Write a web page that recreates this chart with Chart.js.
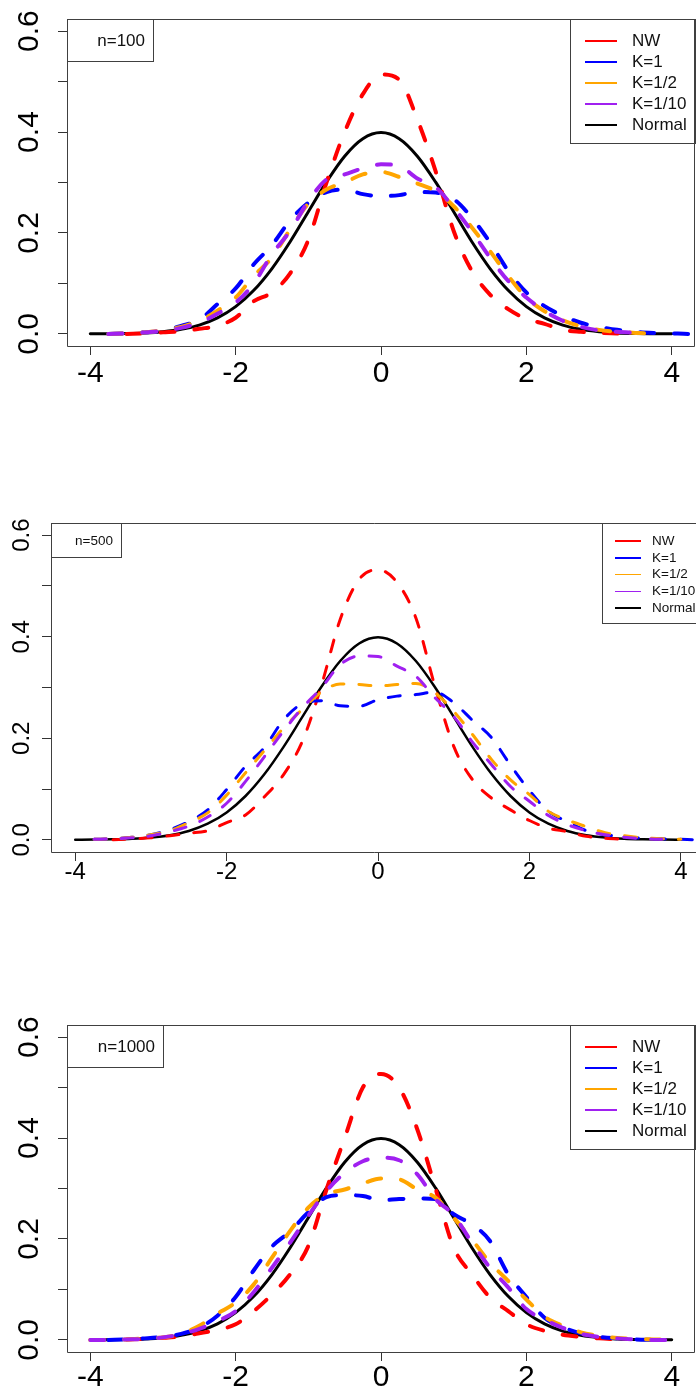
<!DOCTYPE html>
<html>
<head>
<meta charset="utf-8">
<script src="https://cdn.jsdelivr.net/npm/chart.js@4.4.0/dist/chart.umd.min.js"></script>
<style>
  body { margin: 0; background: #fff; }
  #page { position: relative; width: 696px; height: 1395px; overflow: hidden; background: #fff;
          font-family: "Liberation Sans", Arial, sans-serif; }
  canvas { position: absolute; left: 0; }
  .box { position: absolute; border: 1px solid #404040; box-sizing: border-box; }
  .nlab { text-align: right; color: #111; white-space: nowrap; }
  .lg-line, .lg-text { position: absolute; }
  .lg-text { color: #111; white-space: nowrap; }
</style>
</head>
<body>
<div id="page"></div>
<script>
// ---- data (x grid: -4 .. 4.5 by 0.25) ----
const xGrid = [-4, -3.75, -3.5, -3.25, -3, -2.75, -2.5, -2.25, -2, -1.75, -1.5, -1.25, -1, -0.75, -0.5, -0.25,
  0, 0.25, 0.5, 0.75, 1, 1.25, 1.5, 1.75, 2, 2.25, 2.5, 2.75, 3, 3.25, 3.5, 3.75, 4, 4.25, 4.5];
const xTicks = [-4, -2, 0, 2, 4];
const yTicks = [0, 0.1, 0.2, 0.3, 0.4, 0.5, 0.6];
const yLabels = ['0.0', '', '0.2', '', '0.4', '', '0.6'];
const seriesNames = ['NW', 'K=1', 'K=1/2', 'K=1/10', 'Normal'];
const seriesColors = ['#FF0000', '#0000FF', '#FFA500', '#A020F0', '#000000'];
const sampleLabels = ['n=100', 'n=500', 'n=1000'];

// standard normal density
const normalY = [0.0001, 0.0004, 0.0009, 0.002, 0.0044, 0.0091, 0.0175, 0.0317, 0.054, 0.0863, 0.1295, 0.1826, 0.242, 0.3011, 0.3521, 0.3867,
  0.3989, 0.3867, 0.3521, 0.3011, 0.242, 0.1826, 0.1295, 0.0863, 0.054, 0.0317, 0.0175, 0.0091, 0.0044, 0.002, 0.0009, 0.0004, 0.0001, null, null];

// n = 100
const nw100 = [null, null, 0, 0.001, 0.003, 0.005, 0.01, 0.016, 0.032, 0.065, 0.082, 0.12, 0.186, 0.30, 0.40, 0.475,
  0.514, 0.504, 0.425, 0.323, 0.204, 0.125, 0.078, 0.049, 0.03, 0.02, 0.008, 0.004, 0.002, 0.001, 0, null, null, null, null];
const k1_100 = [null, 0, 0.001, 0.003, 0.006, 0.016, 0.028, 0.059, 0.09, 0.138, 0.176, 0.225, 0.26, 0.281, 0.286, 0.277,
  0.273, 0.275, 0.281, 0.280, 0.267, 0.230, 0.181, 0.125, 0.082, 0.055, 0.036, 0.022, 0.014, 0.008, 0.004, 0.002, 0.001, 0, 0];
const kHalf100 = [null, 0, 0.001, 0.003, 0.007, 0.014, 0.026, 0.046, 0.072, 0.115, 0.151, 0.207, 0.258, 0.286, 0.300, 0.316,
  0.321, 0.311, 0.298, 0.283, 0.253, 0.211, 0.164, 0.115, 0.072, 0.045, 0.027, 0.015, 0.008, 0.004, 0.002, 0, null, null, null];
const kTenth100 = [null, 0, 0.001, 0.003, 0.006, 0.012, 0.022, 0.04, 0.062, 0.10, 0.158, 0.204, 0.263, 0.306, 0.316, 0.328,
  0.336, 0.333, 0.308, 0.291, 0.25, 0.203, 0.151, 0.105, 0.072, 0.045, 0.026, 0.014, 0.007, 0.004, 0.002, null, null, null, null];

// n = 500
const nw500 = [null, null, 0, 0.002, 0.004, 0.008, 0.013, 0.018, 0.034, 0.049, 0.085, 0.128, 0.194, 0.303, 0.434, 0.513,
  0.532, 0.507, 0.437, 0.303, 0.184, 0.118, 0.082, 0.059, 0.038, 0.023, 0.016, 0.007, 0.003, 0.001, null, null, null, null, null];
const k1_500 = [null, 0.001, 0.002, 0.005, 0.01, 0.02, 0.036, 0.059, 0.099, 0.145, 0.182, 0.236, 0.268, 0.274, 0.264, 0.263,
  0.276, 0.283, 0.286, 0.291, 0.27, 0.235, 0.201, 0.147, 0.097, 0.056, 0.036, 0.018, 0.01, 0.006, 0.003, 0.002, 0.001, 0, 0];
const kHalf500 = [null, 0.001, 0.002, 0.005, 0.01, 0.018, 0.034, 0.053, 0.088, 0.132, 0.176, 0.220, 0.257, 0.291, 0.307, 0.306,
  0.303, 0.306, 0.308, 0.29, 0.253, 0.207, 0.158, 0.118, 0.089, 0.056, 0.039, 0.026, 0.014, 0.008, 0.004, 0.002, 0.001, null, null];
const kTenth500 = [null, 0.001, 0.002, 0.004, 0.008, 0.016, 0.027, 0.045, 0.072, 0.115, 0.164, 0.214, 0.26, 0.299, 0.345, 0.362,
  0.361, 0.342, 0.322, 0.28, 0.243, 0.192, 0.148, 0.105, 0.076, 0.048, 0.03, 0.018, 0.01, 0.005, 0.002, 0.001, null, null, null];

// n = 1000
const nw1000 = [null, null, 0.001, 0.002, 0.004, 0.007, 0.013, 0.02, 0.031, 0.057, 0.09, 0.13, 0.186, 0.298, 0.40, 0.50,
  0.527, 0.50, 0.417, 0.30, 0.183, 0.13, 0.084, 0.057, 0.031, 0.018, 0.01, 0.006, 0.003, 0.001, null, null, null, null, null];
const k1_1000 = [null, 0, 0.001, 0.003, 0.006, 0.012, 0.024, 0.048, 0.085, 0.138, 0.185, 0.215, 0.253, 0.283, 0.287, 0.285,
  0.277, 0.279, 0.28, 0.279, 0.249, 0.229, 0.196, 0.13, 0.085, 0.044, 0.025, 0.013, 0.006, 0.003, 0.001, 0, null, null, null];
const kHalf1000 = [0, 0, 0.001, 0.003, 0.005, 0.012, 0.028, 0.052, 0.074, 0.11, 0.163, 0.216, 0.262, 0.289, 0.298, 0.31,
  0.32, 0.318, 0.298, 0.282, 0.242, 0.199, 0.153, 0.117, 0.08, 0.046, 0.028, 0.015, 0.008, 0.004, 0.002, 0.001, 0, null, null];
const kTenth1000 = [0, 0, 0.001, 0.002, 0.005, 0.011, 0.022, 0.037, 0.057, 0.095, 0.143, 0.193, 0.246, 0.295, 0.331, 0.354,
  0.361, 0.356, 0.328, 0.279, 0.247, 0.193, 0.143, 0.104, 0.061, 0.04, 0.024, 0.012, 0.006, 0.003, 0.001, 0, 0, null, null];

// ---- layout of the three panels ----
const FONT = '"Liberation Sans", Arial, sans-serif';
const panels = [
  { top: 0, h: 400, left: 67, padTop: 19, padRight: 1, xAxisH: 54, xMax: 4.32, openRight: false,
    font: 30, xPad: 1, yLabelX: 30, dashW: 4, solidW: 3, dash: [14, 20],
    nBox: { left: 67, top: 19, w: 87, h: 43, pr: 8, font: 17 },
    legend: { left: 570, top: 19, w: 126, h: 125, first: 22, gap: 21, lineL: 15, lineLen: 32, lineW: 2, textL: 62, font: 17 } },
  { top: 500, h: 400, left: 51, padTop: 23, padRight: 0, xAxisH: 48, xMax: 4.2, openRight: true,
    font: 24, xPad: -3, yLabelX: 22, dashW: 3, solidW: 2.5, dash: [12, 15],
    nBox: { left: 51, top: 523, w: 71, h: 35, pr: 8, font: 13.5 },
    legend: { left: 602, top: 523, w: 110, h: 101, first: 18, gap: 16.75, lineL: 13, lineLen: 26, lineW: 1.5, textL: 50, font: 13.5 } },
  { top: 1006, h: 389, left: 67, padTop: 19, padRight: 1, xAxisH: 43, xMax: 4.32, openRight: false,
    font: 30, xPad: -1, yLabelX: 30, dashW: 4, solidW: 3, dash: [14, 20],
    nBox: { left: 67, top: 1025, w: 97, h: 43, pr: 8, font: 17 },
    legend: { left: 570, top: 1025, w: 126, h: 125, first: 22, gap: 21, lineL: 15, lineLen: 32, lineW: 2, textL: 62, font: 17 } }
];
const panelCurves = [
  [nw100, k1_100, kHalf100, kTenth100, normalY],
  [nw500, k1_500, kHalf500, kTenth500, normalY],
  [nw1000, k1_1000, kHalf1000, kTenth1000, normalY]
];
// purple drawn on top, normal underneath
const drawOrder = [4, 3, 2, 1, 5];

const page = document.getElementById('page');

function toPoints(ys) {
  return xGrid.map((x, i) => ({ x: x, y: ys[i] })).filter(p => p.y !== null);
}

// R-style box round the plot and rotated y labels
const rFrame = {
  id: 'rFrame',
  afterDraw(chart, args, opts) {
    const { ctx, chartArea: a } = chart;
    const y = chart.scales.y;
    ctx.save();
    ctx.strokeStyle = '#404040';
    ctx.lineWidth = 1;
    const L = Math.round(a.left) + 0.5, T = Math.round(a.top) + 0.5;
    const R = Math.round(a.right) - 0.5, B = Math.round(a.bottom) + 0.5;
    ctx.beginPath();
    if (opts.openRight) {
      ctx.moveTo(R + 2, T); ctx.lineTo(L, T); ctx.lineTo(L, B); ctx.lineTo(R + 2, B);
    } else {
      ctx.rect(L, T, R - L, B - T);
    }
    ctx.stroke();

    ctx.fillStyle = '#000';
    ctx.font = opts.font + 'px ' + FONT;
    ctx.textAlign = 'center';
    ctx.textBaseline = 'middle';
    yTicks.forEach((v, i) => {
      if (!yLabels[i]) return;
      ctx.save();
      ctx.translate(opts.labelX, y.getPixelForValue(v));
      ctx.rotate(-Math.PI / 2);
      ctx.fillText(yLabels[i], 0, 0);
      ctx.restore();
    });
    ctx.restore();
  }
};

function addDiv(cls, left, top, w, h) {
  const d = document.createElement('div');
  d.className = cls;
  d.style.position = 'absolute';
  d.style.left = left + 'px';
  d.style.top = top + 'px';
  if (w != null) d.style.width = w + 'px';
  if (h != null) d.style.height = h + 'px';
  page.appendChild(d);
  return d;
}

function addNBox(b, text) {
  const d = addDiv('box nlab', b.left, b.top, b.w, b.h);
  d.style.fontSize = b.font + 'px';
  d.style.lineHeight = (b.h - 2) + 'px';
  d.style.paddingRight = b.pr + 'px';
  d.textContent = text;
}

function addLegend(b) {
  const box = addDiv('box', b.left, b.top, b.w, b.h);
  box.style.background = 'transparent';
  seriesNames.forEach((name, i) => {
    const cy = b.first + i * b.gap - 1;
    const ln = document.createElement('div');
    ln.className = 'lg-line';
    ln.style.left = (b.lineL - 1) + 'px';
    ln.style.top = (cy - b.lineW / 2) + 'px';
    ln.style.width = b.lineLen + 'px';
    ln.style.height = b.lineW + 'px';
    ln.style.background = seriesColors[i];
    box.appendChild(ln);

    const tx = document.createElement('div');
    tx.className = 'lg-text';
    tx.style.left = (b.textL - 1) + 'px';
    tx.style.top = (cy - b.font * 0.6) + 'px';
    tx.style.fontSize = b.font + 'px';
    tx.style.lineHeight = (b.font * 1.2) + 'px';
    tx.textContent = name;
    box.appendChild(tx);
  });
}

function makePanel(cfg, curves, nText) {
  const canvas = document.createElement('canvas');
  canvas.width = 696;
  canvas.height = cfg.h;
  canvas.style.top = cfg.top + 'px';
  canvas.style.width = '696px';
  canvas.style.height = cfg.h + 'px';
  page.appendChild(canvas);

  const datasets = curves.map((ys, i) => ({
    label: seriesNames[i],
    data: toPoints(ys),
    borderColor: seriesColors[i],
    borderWidth: i === 4 ? cfg.solidW : cfg.dashW,
    borderDash: i === 4 ? [] : cfg.dash,
    borderCapStyle: 'round',
    borderJoinStyle: 'round',
    pointRadius: 0,
    fill: false,
    cubicInterpolationMode: 'monotone',
    order: drawOrder[i]
  }));

  const tickGrid = { drawOnChartArea: false, drawTicks: true, tickLength: 9, color: '#333', lineWidth: 1 };

  new Chart(canvas.getContext('2d'), {
    type: 'line',
    data: { datasets: datasets },
    options: {
      responsive: false,
      animation: false,
      devicePixelRatio: 1,
      events: [],
      layout: { padding: { top: cfg.padTop, right: cfg.padRight, left: 0, bottom: 0 } },
      plugins: {
        legend: { display: false },
        tooltip: { enabled: false },
        rFrame: { openRight: cfg.openRight, font: cfg.font, labelX: cfg.yLabelX }
      },
      scales: {
        x: {
          type: 'linear',
          min: -4.32,
          max: cfg.xMax,
          afterBuildTicks: s => { s.ticks = xTicks.map(v => ({ value: v })); },
          afterFit: s => { s.height = cfg.xAxisH; },
          grid: tickGrid,
          border: { display: false },
          ticks: {
            color: '#000',
            font: { size: cfg.font, family: FONT },
            padding: cfg.xPad,
            maxRotation: 0,
            autoSkip: false,
            callback: v => String(v)
          }
        },
        y: {
          type: 'linear',
          min: -0.024,
          max: 0.624,
          afterBuildTicks: s => { s.ticks = yTicks.map(v => ({ value: v })); },
          afterFit: s => { s.width = cfg.left; },
          grid: tickGrid,
          border: { display: false },
          ticks: { display: false }
        }
      }
    },
    plugins: [rFrame]
  });

  addNBox(cfg.nBox, nText);
  addLegend(cfg.legend);
}

panels.forEach((p, i) => makePanel(p, panelCurves[i], sampleLabels[i]));
</script>
</body>
</html>
